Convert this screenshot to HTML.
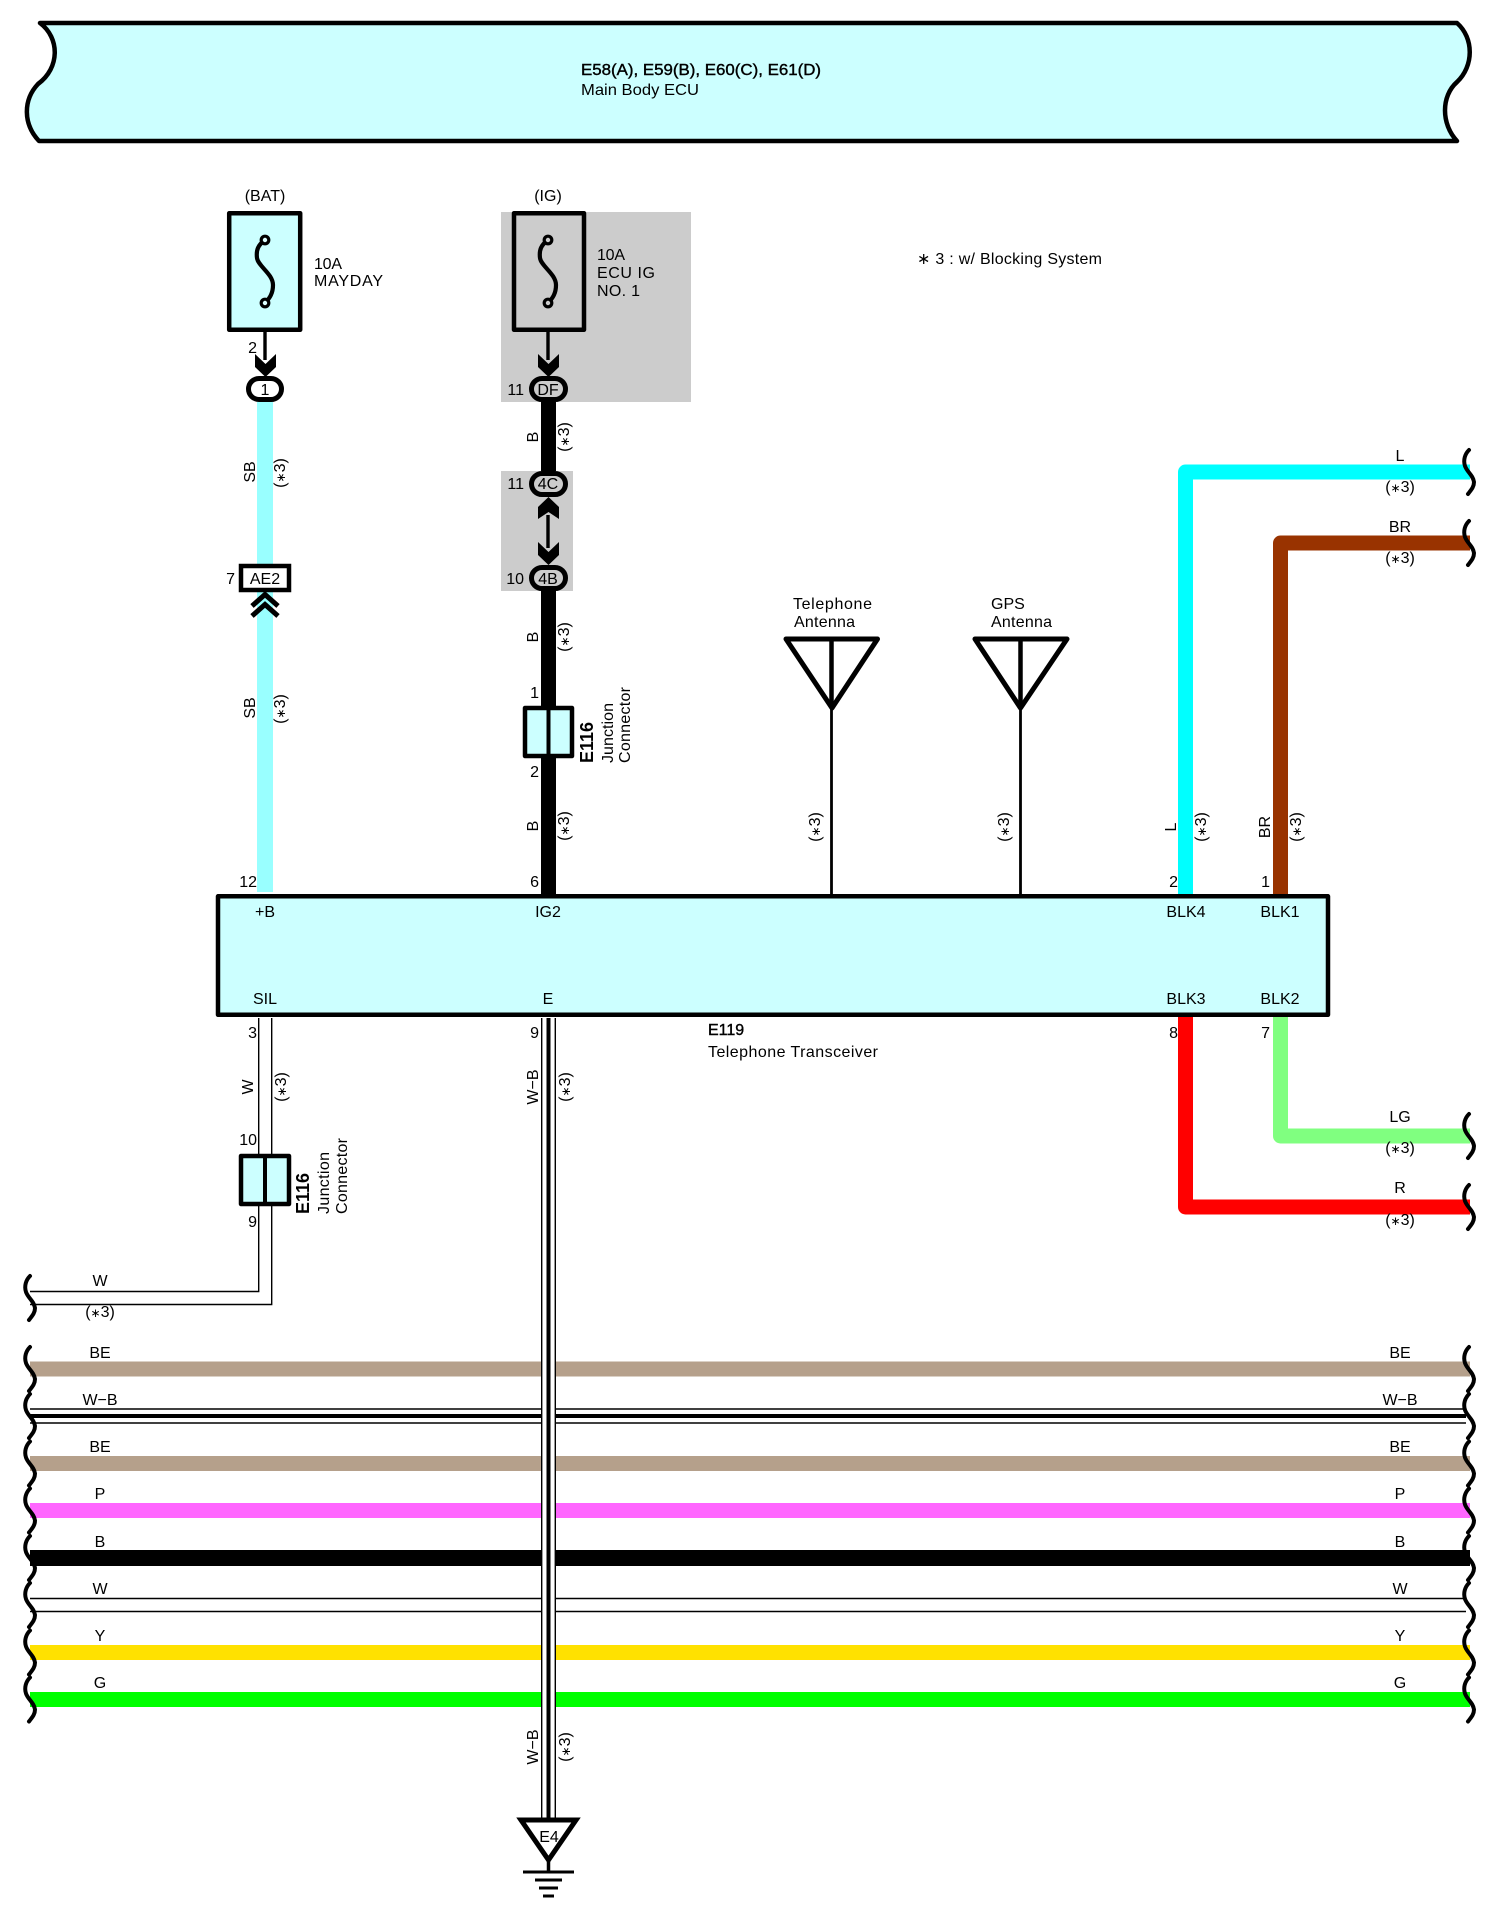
<!DOCTYPE html>
<html><head><meta charset="utf-8"><style>
html,body{margin:0;padding:0;background:#fff}
svg{display:block}
text{font-family:"Liberation Sans",sans-serif;font-size:16px;fill:#000}
tspan.t{font-size:12px}
.m{text-anchor:middle}.e{text-anchor:end}.b{font-weight:bold;font-size:18px}
</style></head><body>
<svg xmlns="http://www.w3.org/2000/svg" width="1500" height="1914" viewBox="0 0 1500 1914">
<defs>
<path id="s" d="M5,-22 C1,-18 -1,-12 1,-6 C3,0 9,3 10,10 C10,15 7,18 4,22" fill="none" stroke="#000" stroke-width="4" stroke-linecap="round"/>
</defs>
<rect width="1500" height="1914" fill="#fff"/>
<!-- header -->
<path d="M40,23 L1457,23 C1474,38 1474,66 1457,82 C1441,96 1441,124 1457,141 L39,141 C23,124 23,100 38,84 C60,68 60,38 40,23 Z" fill="#ccffff" stroke="#000" stroke-width="4.5" stroke-linejoin="round"/>
<text x="581" y="75" textLength="240" lengthAdjust="spacingAndGlyphs" style="stroke:#000;stroke-width:.4">E58(A), E59(B), E60(C), E61(D)</text>
<text x="581" y="95" textLength="118" lengthAdjust="spacingAndGlyphs">Main Body ECU</text>
<!-- gray -->
<rect x="501" y="212" width="190" height="190" fill="#ccc"/>
<rect x="501" y="471" width="72" height="120" fill="#ccc"/>
<!-- wires -->
<g fill="none">
<path d="M265,402V892" stroke="#99ffff" stroke-width="16"/>
<path d="M548.5,402V471M548.5,590V894" stroke="#000" stroke-width="15"/>
<path d="M1185.5,894V472H1470" stroke="#00ffff" stroke-width="15" stroke-linejoin="round"/>
<path d="M1280.5,894V543H1470" stroke="#993300" stroke-width="15" stroke-linejoin="round"/>
<path d="M1185.5,1017V1207H1470" stroke="#ff0000" stroke-width="15" stroke-linejoin="round"/>
<path d="M1280.5,1017V1136H1470" stroke="#80ff80" stroke-width="15" stroke-linejoin="round"/>
<g stroke-width="15" stroke-linecap="butt">
<path d="M30,1369H1470" stroke="#b5a08b"/>
<path d="M30,1463.5H1470" stroke="#b5a08b"/>
<path d="M30,1510.5H1470" stroke="#ff66ff"/>
<path d="M30,1558H1470" stroke="#000" stroke-width="16"/>
<path d="M30,1652.5H1470" stroke="#ffe100"/>
<path d="M30,1699.5H1470" stroke="#00ff00"/>
</g>
<g stroke="#000">
<path d="M30,1409H1466M30,1423H1466M30,1598.5H1466M30,1611.5H1466" stroke-width="1.4"/>
<path d="M30,1416H1466" stroke-width="4"/>
<path d="M258.7,1018V1291.5H30M271.7,1018V1304.5H30" stroke-width="1.4"/>
</g>
<rect x="541" y="1340" width="15" height="380" fill="#fff"/>
<g stroke="#000">
<path d="M541.7,1018V1819M555.3,1018V1819" stroke-width="1.4"/>
<path d="M548.5,1018V1819" stroke-width="4"/>
</g>
<!-- thin wires top -->
<path d="M265,303V360M548,303V360M548,515V548" stroke="#000" stroke-width="3.4"/>
<path d="M831.5,637V895M1020.5,637V895" stroke="#000" stroke-width="2.8"/>
</g>
<!-- squiggles -->
<g>
<use href="#s" x="25" y="1298"/><use href="#s" x="25" y="1369"/><use href="#s" x="25" y="1416"/><use href="#s" x="25" y="1463.5"/><use href="#s" x="25" y="1510.5"/><use href="#s" x="25" y="1558"/><use href="#s" x="25" y="1605"/><use href="#s" x="25" y="1652.5"/><use href="#s" x="25" y="1699.5"/>
<use href="#s" x="1464" y="1369"/><use href="#s" x="1464" y="1416"/><use href="#s" x="1464" y="1463.5"/><use href="#s" x="1464" y="1510.5"/><use href="#s" x="1464" y="1558"/><use href="#s" x="1464" y="1605"/><use href="#s" x="1464" y="1652.5"/><use href="#s" x="1464" y="1699.5"/>
<use href="#s" x="1464" y="472"/><use href="#s" x="1464" y="543"/><use href="#s" x="1464" y="1136"/><use href="#s" x="1464" y="1207"/>
</g>
<!-- fuses -->
<rect x="229.2" y="213.2" width="71" height="116.6" fill="#ccffff" stroke="#000" stroke-width="4.5" stroke-linejoin="round"/>
<rect x="514" y="213.2" width="70" height="116.6" fill="#ccc" stroke="#000" stroke-width="4.5" stroke-linejoin="round"/>
<g fill="none" stroke="#000" stroke-width="4.2">
<path d="M265,240 C258,245 256,250 257,258 C258,266 273,274 273,285 C273,293 270,298 265,303"/>
<path d="M548,240 C541,245 539,250 540,258 C541,266 556,274 556,285 C556,293 553,298 548,303"/>
</g>
<g fill="#ddffff" stroke="#000" stroke-width="3.2">
<circle cx="265" cy="240" r="3.8"/><circle cx="265" cy="303" r="3.8"/>
</g>
<g fill="#ccc" stroke="#000" stroke-width="3.2">
<circle cx="548" cy="240" r="3.8"/><circle cx="548" cy="303" r="3.8"/>
</g>
<!-- arrows -->
<g fill="#000">
<path d="M255,354L265.5,364L276,354V367L265.5,377L255,367Z"/>
<path d="M538,354L548.5,364L559,354V367L548.5,377L538,367Z"/>
<path d="M538,519L548.5,512L559,519V507L548.5,497L538,507Z"/>
<path d="M538,542L548.5,552L559,542V555L548.5,565L538,555Z"/>
</g>
<g fill="none" stroke="#000" stroke-width="5">
<path d="M252,606L265,594.5L278,606"/>
<path d="M252,616L265,604.5L278,616"/>
</g>
<!-- connectors -->
<g stroke="#000" stroke-width="5">
<rect x="248.5" y="378.5" width="33" height="21" rx="10.5" fill="#fff"/>
<rect x="531.5" y="378.5" width="34" height="21" rx="10.5" fill="#ccc"/>
<rect x="531.5" y="473.5" width="34" height="21" rx="10.5" fill="#ccc"/>
<rect x="531.5" y="567.5" width="34" height="21" rx="10.5" fill="#ccc"/>
</g>
<g stroke="#000" stroke-width="4.5">
<rect x="241" y="566" width="48" height="24" fill="#fff"/>
<rect x="525" y="708" width="47" height="48" fill="#ccffff" stroke-linejoin="round"/>
<rect x="241" y="1156" width="48" height="48" fill="#ccffff" stroke-linejoin="round"/>
<path d="M548.5,708V756M265,1156V1204" stroke-width="4" fill="none"/>
</g>
<!-- ECU -->
<rect x="218" y="896.3" width="1110" height="118.5" fill="#ccffff" stroke="#000" stroke-width="4.5" stroke-linejoin="round"/>
<!-- antennas -->
<g fill="none" stroke="#000" stroke-width="5" stroke-linejoin="round">
<path d="M786,639H877.5L832,708Z"/>
<path d="M975,639H1067L1020.5,708Z"/>
</g>
<path d="M831.5,637V706M1020.5,637V706" stroke="#000" stroke-width="4.5"/>
<!-- ground -->
<path d="M521,1820H576L548.5,1860Z" fill="#fff" stroke="#000" stroke-width="5"/>
<path d="M548.5,1860V1872" stroke="#000" stroke-width="3.5"/>
<g stroke="#000" stroke-width="3"><path d="M523,1872H574M535,1880H562M539,1888H558M543,1896H554"/></g>
<text x="549" y="1842" class="m">E4</text>
<!-- horizontal text -->
<text x="265" y="201" class="m">(BAT)</text>
<text x="548" y="201" class="m">(IG)</text>
<text x="314" y="269" textLength="28">10A</text>
<text x="314" y="286" textLength="69">MAYDAY</text>
<text x="597" y="260" textLength="28">10A</text>
<text x="597" y="278" textLength="58">ECU IG</text>
<text x="597" y="296" textLength="43">NO. 1</text>
<text x="917" y="264" textLength="185">∗ 3 : w/ Blocking System</text>
<text x="257" y="353" class="e">2</text>
<text x="265" y="395" class="m">1</text>
<text x="548" y="395" class="m">DF</text>
<text x="524" y="395" class="e">11</text>
<text x="548" y="489" class="m">4C</text>
<text x="524" y="489" class="e">11</text>
<text x="548" y="584" class="m">4B</text>
<text x="524" y="584" class="e">10</text>
<text x="265" y="584" class="m">AE2</text>
<text x="235" y="584" class="e">7</text>
<text x="539" y="698" class="e">1</text>
<text x="539" y="777" class="e">2</text>
<text x="539" y="887" class="e">6</text>
<text x="257" y="887" class="e">12</text>
<text x="1178" y="887" class="e">2</text>
<text x="1270" y="887" class="e">1</text>
<text x="793" y="609" textLength="79">Telephone</text>
<text x="794" y="627" textLength="61">Antenna</text>
<text x="991" y="609">GPS</text>
<text x="991" y="627" textLength="61">Antenna</text>
<text x="265" y="917" class="m">+B</text>
<text x="548" y="917" class="m">IG2</text>
<text x="1186" y="917" class="m">BLK4</text>
<text x="1280" y="917" class="m">BLK1</text>
<text x="265" y="1004" class="m">SIL</text>
<text x="548" y="1004" class="m">E</text>
<text x="1186" y="1004" class="m">BLK3</text>
<text x="1280" y="1004" class="m">BLK2</text>
<text x="257" y="1038" class="e">3</text>
<text x="539" y="1038" class="e">9</text>
<text x="1178" y="1038" class="e">8</text>
<text x="1270" y="1038" class="e">7</text>
<text x="708" y="1035" style="stroke:#000;stroke-width:.4">E119</text>
<text x="708" y="1057" textLength="170">Telephone Transceiver</text>
<text x="257" y="1145" class="e">10</text>
<text x="257" y="1227" class="e">9</text>
<!-- wire side labels -->
<text x="1400" y="461" class="m">L</text><text x="1400" y="492" class="m">(<tspan class="t">∗</tspan>3)</text>
<text x="1400" y="532" class="m">BR</text><text x="1400" y="563" class="m">(<tspan class="t">∗</tspan>3)</text>
<text x="1400" y="1122" class="m">LG</text><text x="1400" y="1153" class="m">(<tspan class="t">∗</tspan>3)</text>
<text x="1400" y="1193" class="m">R</text><text x="1400" y="1225" class="m">(<tspan class="t">∗</tspan>3)</text>
<text x="100" y="1286" class="m">W</text><text x="100" y="1317" class="m">(<tspan class="t">∗</tspan>3)</text>
<text x="100" y="1358" class="m">BE</text><text x="1400" y="1358" class="m">BE</text>
<text x="100" y="1405" class="m">W−B</text><text x="1400" y="1405" class="m">W−B</text>
<text x="100" y="1452" class="m">BE</text><text x="1400" y="1452" class="m">BE</text>
<text x="100" y="1499" class="m">P</text><text x="1400" y="1499" class="m">P</text>
<text x="100" y="1547" class="m">B</text><text x="1400" y="1547" class="m">B</text>
<text x="100" y="1594" class="m">W</text><text x="1400" y="1594" class="m">W</text>
<text x="100" y="1641" class="m">Y</text><text x="1400" y="1641" class="m">Y</text>
<text x="100" y="1688" class="m">G</text><text x="1400" y="1688" class="m">G</text>
<!-- rotated labels -->
<text class="m" transform="translate(255,472) rotate(-90)">SB</text>
<text class="m" transform="translate(285,473) rotate(-90)">(<tspan class="t">∗</tspan>3)</text>
<text class="m" transform="translate(255,708) rotate(-90)">SB</text>
<text class="m" transform="translate(285,709) rotate(-90)">(<tspan class="t">∗</tspan>3)</text>
<text class="m" transform="translate(538,437) rotate(-90)">B</text>
<text class="m" transform="translate(569,437) rotate(-90)">(<tspan class="t">∗</tspan>3)</text>
<text class="m" transform="translate(538,637) rotate(-90)">B</text>
<text class="m" transform="translate(569,637) rotate(-90)">(<tspan class="t">∗</tspan>3)</text>
<text class="m" transform="translate(538,826) rotate(-90)">B</text>
<text class="m" transform="translate(569,826) rotate(-90)">(<tspan class="t">∗</tspan>3)</text>
<text class="m" transform="translate(820,827) rotate(-90)">(<tspan class="t">∗</tspan>3)</text>
<text class="m" transform="translate(1009,827) rotate(-90)">(<tspan class="t">∗</tspan>3)</text>
<text class="m" transform="translate(1176,827) rotate(-90)">L</text>
<text class="m" transform="translate(1206,827) rotate(-90)">(<tspan class="t">∗</tspan>3)</text>
<text class="m" transform="translate(1270,827) rotate(-90)">BR</text>
<text class="m" transform="translate(1301,827) rotate(-90)">(<tspan class="t">∗</tspan>3)</text>
<text class="m" transform="translate(253,1087) rotate(-90)">W</text>
<text class="m" transform="translate(286,1087) rotate(-90)">(<tspan class="t">∗</tspan>3)</text>
<text class="m" transform="translate(538,1087) rotate(-90)">W−B</text>
<text class="m" transform="translate(570,1087) rotate(-90)">(<tspan class="t">∗</tspan>3)</text>
<text class="m" transform="translate(538,1747) rotate(-90)">W−B</text>
<text class="m" transform="translate(570,1747) rotate(-90)">(<tspan class="t">∗</tspan>3)</text>
<text class="b" transform="translate(593,763) rotate(-90)">E116</text>
<text transform="translate(613,763) rotate(-90)" textLength="60">Junction</text>
<text transform="translate(630,763) rotate(-90)" textLength="76">Connector</text>
<text class="b" transform="translate(309,1214) rotate(-90)">E116</text>
<text transform="translate(329,1214) rotate(-90)" textLength="62">Junction</text>
<text transform="translate(347,1214) rotate(-90)" textLength="76">Connector</text>
</svg>
</body></html>
